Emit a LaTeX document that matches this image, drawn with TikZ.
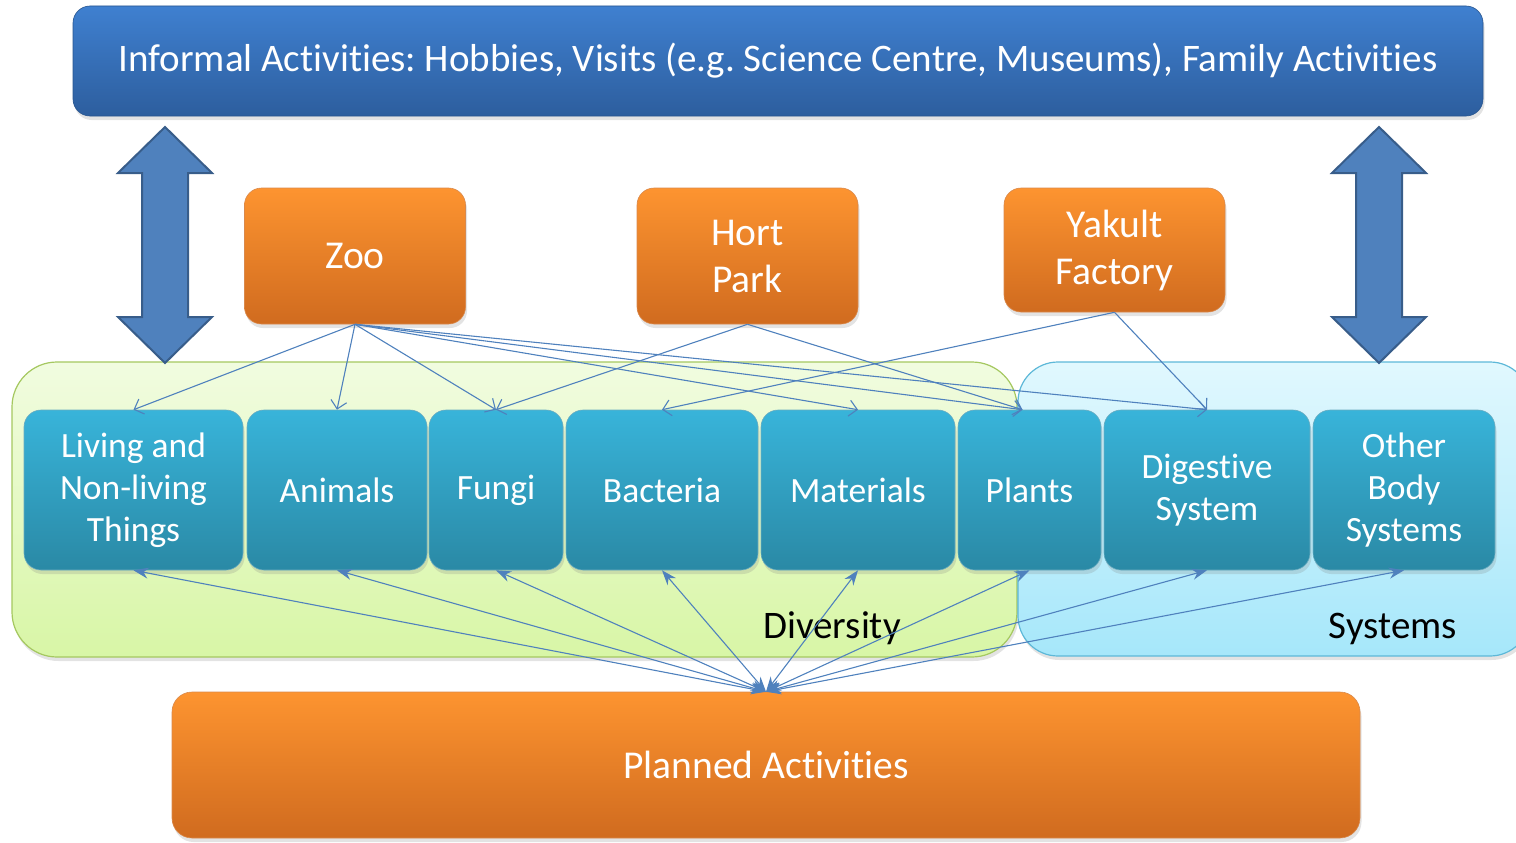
\documentclass[tikz,border=0pt]{standalone}
\usepackage{fontspec}
\setmainfont[Ligatures={NoCommon,NoContextual}]{Carlito}
\frenchspacing
\usetikzlibrary{arrows.meta,shadows}
\definecolor{bnTop}{HTML}{3F80D0}
\definecolor{bnBot}{HTML}{2D5E9E}
\definecolor{orTop}{HTML}{FD9430}
\definecolor{orBot}{HTML}{D06B1F}
\definecolor{blTop}{HTML}{38B4DA}
\definecolor{blBot}{HTML}{2A89A5}
\definecolor{grTop}{HTML}{F1FCE0}
\definecolor{grBot}{HTML}{D8F6A6}
\definecolor{grLine}{HTML}{A5C860}
\definecolor{skTop}{HTML}{E1F8FE}
\definecolor{skBot}{HTML}{A6E7FA}
\definecolor{skLine}{HTML}{5DB8D8}
\definecolor{conn}{HTML}{4F81BD}
\definecolor{bigLine}{HTML}{385D8A}
\begin{document}
\begin{tikzpicture}[x=1pt,y=-1pt,
  shad/.style={drop shadow={opacity=0.22,shadow xshift=1.5pt,shadow yshift=-4pt}},
  basebox/.style={rounded corners=17pt, inner sep=0pt, align=center, text=white, shad},
  bannerbox/.style={basebox, top color=bnTop, bottom color=bnBot, draw=bnBot!90!black, line width=0.6pt,
    minimum width=1410pt, minimum height=110pt, font=\fontsize{39}{46}\selectfont},
  orangebox/.style={basebox, top color=orTop, bottom color=orBot, draw=orBot!80!white, line width=0.6pt,
    minimum width=221pt, font=\fontsize{39.5}{47}\selectfont},
  topicbox/.style={basebox, top color=blTop, bottom color=blBot, draw=blBot!70!white, line width=0.6pt,
    minimum height=160pt, font=\fontsize{35.5}{42}\selectfont},
  regiongreen/.style={rounded corners=45pt, top color=grTop, bottom color=grBot, draw=grLine, line width=1.2pt, shad},
  regionblue/.style={rounded corners=40pt, top color=skTop, bottom color=skBot, draw=skLine, line width=1.2pt, shad},
  regionlabel/.style={text=black, inner sep=0pt, font=\fontsize{39}{46}\selectfont},
  bigarrow/.style={fill=conn, draw=bigLine, line width=2pt, line join=miter},
  visitconn/.style={draw=conn, line width=1.1pt, -{Straight Barb[length=8pt,width=16pt,line width=1.1pt]}},
  planconn/.style={draw=conn, line width=1.1pt, {Stealth[length=15pt,width=11pt]}-{Stealth[length=15pt,width=11pt]}}
]
\useasboundingbox (0,0) rectangle (1516,843);

% regions
\path[regiongreen] (12,362) rectangle (1017,657);
\path[regionblue] (1018,362) rectangle (1530,656);
\node[regionlabel, anchor=base west] (div) at (763,638) {Diversity};
\node[regionlabel, anchor=base east] (sys) at (1457,638) {Systems};

% banner
\node[bannerbox] (banner) at (778,61) {Informal Activities: Hobbies, Visits (e.g. Science Centre, Museums), Family Activities};

% big double arrows
\draw[bigarrow] (165,127) -- (212,173) -- (188,173) -- (188,317) -- (212,317) -- (165,363)
  -- (118,317) -- (142,317) -- (142,173) -- (118,173) -- cycle;
\draw[bigarrow] (1379,127) -- (1426,173) -- (1402,173) -- (1402,317) -- (1426,317) -- (1379,363)
  -- (1332,317) -- (1356,317) -- (1356,173) -- (1332,173) -- cycle;

% visits
\node[orangebox, minimum height=136pt] (zoo) at (355,256) {Zoo};
\node[orangebox, minimum height=136pt] (hort) at (747.5,256) {Hort\\Park};
\node[orangebox, minimum height=124pt] (yakult) at (1114.5,250) {Yakult\\Factory};

% topics
\node[topicbox, minimum width=219pt] (living) at (133.5,490) {Living and\\Non-living\\Things};
\node[topicbox, minimum width=180pt] (animals) at (337,490) {Animals};
\node[topicbox, minimum width=134pt] (fungi) at (496,490) {Fungi};
\node[topicbox, minimum width=192pt] (bacteria) at (662,490) {Bacteria};
\node[topicbox, minimum width=194pt] (materials) at (858,490) {Materials};
\node[topicbox, minimum width=143pt] (plants) at (1029.5,490) {Plants};
\node[topicbox, minimum width=206pt] (digestive) at (1207,490) {Digestive\\System};
\node[topicbox, minimum width=182pt] (other) at (1404,490) {Other\\Body\\Systems};

% planned
\node[orangebox, rounded corners=20pt, minimum width=1188pt, minimum height=146pt, font=\fontsize{39.5}{46}\selectfont] (planned) at (766,765) {Planned Activities};

% visit connectors
\draw[visitconn] (zoo.south) -- (living.north);
\draw[visitconn] (zoo.south) -- (animals.north);
\draw[visitconn] (zoo.south) -- (fungi.north);
\draw[visitconn] (zoo.south) -- (materials.north);
\draw[visitconn] (zoo.south) -- ([xshift=-7pt]plants.north);
\draw[visitconn] (zoo.south) -- (digestive.north);
\draw[visitconn] (hort.south) -- (fungi.north);
\draw[visitconn] (hort.south) -- ([xshift=-7pt]plants.north);
\draw[visitconn] (yakult.south) -- (bacteria.north);
\draw[visitconn] (yakult.south) -- (digestive.north);

% planned connectors
\foreach \t in {living,animals,fungi,bacteria,materials,plants,digestive,other}
  \draw[planconn] (planned.north) -- (\t.south);
\end{tikzpicture}
\end{document}
